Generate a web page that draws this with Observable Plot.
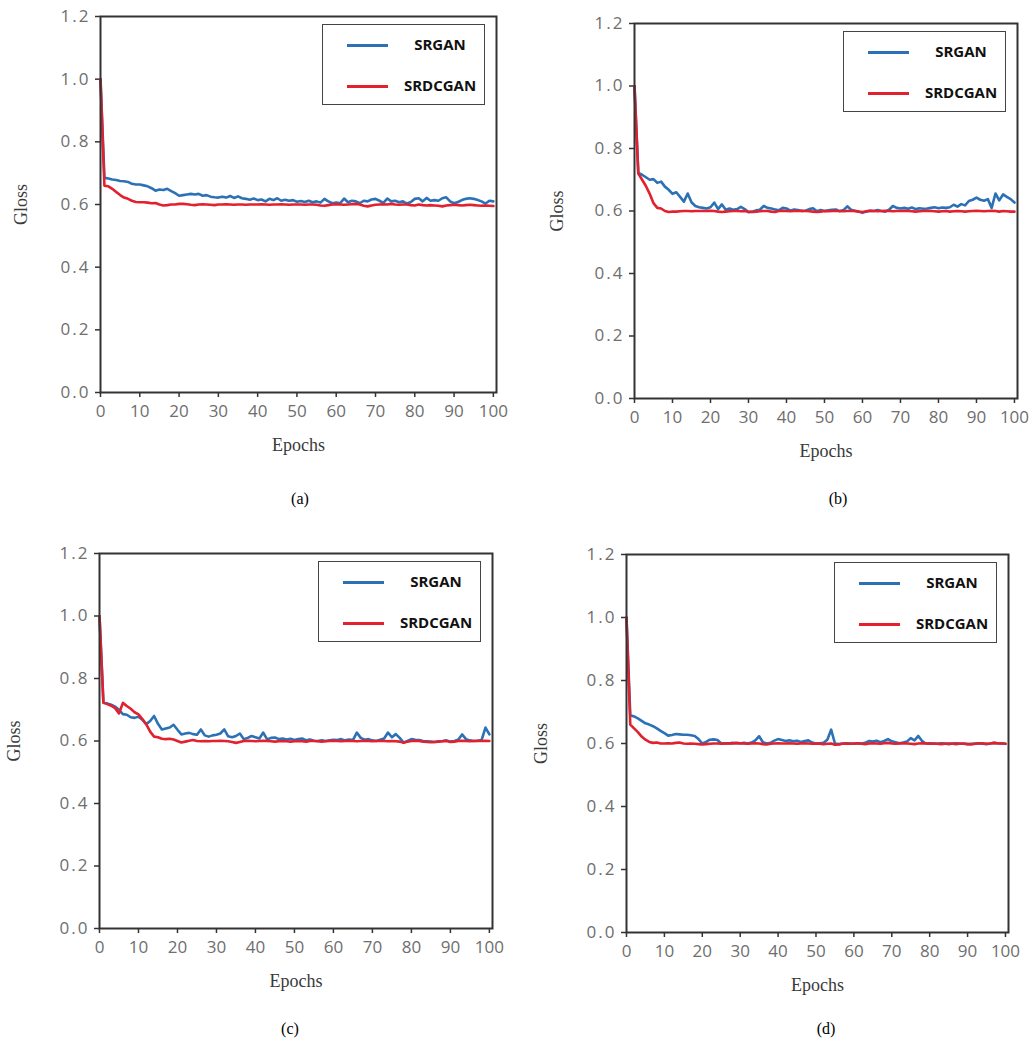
<!DOCTYPE html>
<html><head><meta charset="utf-8">
<script src="https://cdn.jsdelivr.net/npm/d3@7"></script>
<script src="https://cdn.jsdelivr.net/npm/@observablehq/plot@0.6"></script>
<style>
body{margin:0;background:#fff;}
#root{position:relative;width:1035px;height:1059px;overflow:hidden;background:#fff;}
.panel{position:absolute;}
.panel svg{overflow:visible;}
.panel g[aria-label="x-axis label"] text,.panel g[aria-label="y-axis label"] text{font-family:"Liberation Serif",serif;font-size:18px;fill:#3a3a3a;}
.panel g[aria-label="y-axis tick label"] text{letter-spacing:2px;}
.panel g[aria-label="x-axis tick"],.panel g[aria-label="y-axis tick"]{stroke:#333;stroke-width:1.5px;}
.legend{position:absolute;border:1.5px solid #444;background:#fff;box-sizing:border-box;}
.legend .sw{position:absolute;left:24px;width:41px;height:3px;}
.legend .lb{position:absolute;left:72px;width:90px;text-align:center;font:bold 15px "Open Sans",sans-serif;color:#111;line-height:18px;}
.cap{position:absolute;width:40px;text-align:center;font:16px "Liberation Serif",serif;color:#000;}
</style></head><body><div id="root"></div>
<script>
const epochs = d3.range(0, 101);
const seriesNames = ["SRGAN", "SRDCGAN"];
const xTicks = [0,10,20,30,40,50,60,70,80,90,100];
const yTicks = [0,0.2,0.4,0.6,0.8,1.0,1.2];
const captions = ["(a)", "(b)", "(c)", "(d)"];

const srganA = [1.000,0.685,0.683,0.680,0.678,0.675,0.674,0.672,0.666,0.664,
 0.664,0.661,0.658,0.652,0.644,0.648,0.646,0.650,0.643,0.636,
 0.628,0.630,0.632,0.634,0.632,0.634,0.628,0.630,0.625,0.623,
 0.622,0.625,0.622,0.627,0.621,0.626,0.620,0.618,0.615,0.619,
 0.614,0.616,0.610,0.618,0.614,0.620,0.612,0.615,0.612,0.614,
 0.609,0.611,0.608,0.612,0.607,0.610,0.606,0.618,0.610,0.604,
 0.606,0.604,0.619,0.607,0.612,0.610,0.604,0.612,0.610,0.616,
 0.618,0.612,0.605,0.619,0.610,0.612,0.607,0.610,0.603,0.608,
 0.618,0.620,0.610,0.621,0.612,0.614,0.612,0.620,0.623,0.610,
 0.604,0.608,0.614,0.618,0.620,0.618,0.614,0.610,0.603,0.612,
 0.610];
const srdcganA = [1.000,0.660,0.658,0.650,0.640,0.630,0.622,0.618,0.612,0.608,
 0.607,0.607,0.606,0.604,0.605,0.600,0.597,0.598,0.600,0.600,
 0.602,0.602,0.601,0.599,0.598,0.600,0.601,0.600,0.599,0.598,
 0.600,0.600,0.601,0.600,0.599,0.600,0.600,0.599,0.600,0.600,
 0.600,0.601,0.600,0.599,0.600,0.600,0.601,0.600,0.599,0.600,
 0.600,0.600,0.599,0.600,0.600,0.599,0.597,0.596,0.598,0.600,
 0.601,0.600,0.599,0.600,0.601,0.602,0.600,0.596,0.594,0.597,
 0.599,0.600,0.601,0.600,0.602,0.600,0.599,0.600,0.600,0.598,
 0.597,0.600,0.598,0.597,0.598,0.597,0.596,0.594,0.597,0.598,
 0.599,0.598,0.597,0.598,0.599,0.598,0.597,0.596,0.597,0.596,
 0.595];
const srganB = [1.000,0.722,0.716,0.708,0.700,0.702,0.690,0.694,0.678,0.668,
 0.655,0.660,0.645,0.630,0.656,0.628,0.616,0.612,0.610,0.608,
 0.612,0.627,0.606,0.621,0.604,0.608,0.604,0.606,0.613,0.606,
 0.596,0.598,0.602,0.604,0.616,0.610,0.608,0.605,0.602,0.610,
 0.608,0.601,0.605,0.603,0.600,0.601,0.606,0.609,0.599,0.603,
 0.600,0.602,0.604,0.605,0.599,0.603,0.615,0.604,0.600,0.598,
 0.594,0.598,0.601,0.600,0.603,0.600,0.598,0.604,0.616,0.610,
 0.608,0.610,0.607,0.611,0.606,0.609,0.607,0.608,0.610,0.612,
 0.609,0.611,0.610,0.612,0.620,0.614,0.622,0.618,0.632,0.636,
 0.643,0.636,0.633,0.638,0.610,0.656,0.634,0.653,0.645,0.638,
 0.627];
const srdcganB = [1.000,0.720,0.700,0.680,0.655,0.625,0.610,0.608,0.600,0.597,
 0.598,0.598,0.599,0.600,0.600,0.599,0.600,0.600,0.600,0.600,
 0.601,0.600,0.598,0.597,0.598,0.599,0.600,0.600,0.599,0.600,
 0.598,0.597,0.598,0.599,0.600,0.600,0.598,0.597,0.600,0.601,
 0.600,0.599,0.600,0.600,0.601,0.600,0.599,0.598,0.597,0.598,
 0.600,0.599,0.600,0.601,0.600,0.599,0.600,0.600,0.601,0.598,
 0.597,0.599,0.601,0.600,0.599,0.600,0.601,0.600,0.599,0.600,
 0.600,0.601,0.600,0.599,0.598,0.599,0.600,0.601,0.600,0.599,
 0.598,0.599,0.600,0.598,0.599,0.600,0.599,0.598,0.599,0.600,
 0.601,0.600,0.599,0.600,0.601,0.600,0.598,0.600,0.599,0.598,
 0.598];
const srganC = [1.000,0.725,0.720,0.716,0.710,0.700,0.686,0.684,0.676,0.674,
 0.678,0.668,0.654,0.664,0.680,0.655,0.637,0.640,0.643,0.652,
 0.636,0.621,0.624,0.626,0.622,0.620,0.637,0.618,0.614,0.618,
 0.620,0.624,0.637,0.615,0.612,0.616,0.624,0.606,0.610,0.616,
 0.612,0.608,0.627,0.605,0.610,0.611,0.606,0.608,0.605,0.607,
 0.603,0.606,0.608,0.602,0.605,0.601,0.600,0.602,0.600,0.602,
 0.604,0.603,0.606,0.602,0.605,0.603,0.627,0.610,0.604,0.606,
 0.602,0.600,0.604,0.608,0.627,0.612,0.622,0.610,0.595,0.600,
 0.606,0.604,0.603,0.600,0.599,0.598,0.597,0.599,0.600,0.602,
 0.598,0.600,0.604,0.621,0.606,0.602,0.600,0.601,0.603,0.643,
 0.621];
const srdcganC = [1.000,0.722,0.718,0.713,0.705,0.688,0.722,0.712,0.703,0.692,
 0.685,0.670,0.653,0.630,0.614,0.612,0.607,0.606,0.607,0.605,
 0.600,0.595,0.598,0.601,0.603,0.600,0.599,0.600,0.599,0.600,
 0.600,0.601,0.600,0.599,0.597,0.594,0.597,0.600,0.601,0.600,
 0.599,0.600,0.601,0.600,0.599,0.598,0.599,0.600,0.599,0.598,
 0.599,0.600,0.599,0.598,0.600,0.600,0.599,0.598,0.599,0.600,
 0.601,0.600,0.599,0.600,0.601,0.600,0.599,0.600,0.601,0.600,
 0.599,0.600,0.601,0.600,0.599,0.600,0.599,0.598,0.594,0.598,
 0.600,0.601,0.600,0.598,0.597,0.596,0.597,0.598,0.599,0.600,
 0.597,0.598,0.600,0.601,0.600,0.599,0.600,0.601,0.600,0.601,
 0.600];
const srganD = [1.000,0.690,0.686,0.680,0.672,0.664,0.660,0.655,0.648,0.640,
 0.633,0.625,0.627,0.630,0.629,0.628,0.628,0.626,0.624,0.614,
 0.600,0.605,0.612,0.613,0.611,0.600,0.601,0.600,0.602,0.601,
 0.600,0.602,0.600,0.603,0.610,0.623,0.604,0.600,0.602,0.609,
 0.614,0.611,0.608,0.610,0.607,0.609,0.605,0.608,0.610,0.603,
 0.600,0.601,0.602,0.612,0.644,0.600,0.598,0.600,0.601,0.600,
 0.599,0.601,0.600,0.602,0.608,0.606,0.609,0.604,0.608,0.614,
 0.607,0.604,0.601,0.603,0.606,0.617,0.610,0.624,0.608,0.600,
 0.601,0.600,0.599,0.601,0.600,0.598,0.600,0.601,0.599,0.600,
 0.598,0.599,0.600,0.601,0.599,0.598,0.600,0.602,0.600,0.601,
 0.599];
const srdcganD = [1.000,0.660,0.648,0.636,0.622,0.612,0.605,0.602,0.603,0.600,
 0.600,0.601,0.600,0.602,0.603,0.600,0.599,0.600,0.599,0.598,
 0.597,0.598,0.599,0.600,0.600,0.599,0.600,0.601,0.600,0.602,
 0.601,0.600,0.599,0.600,0.601,0.600,0.598,0.597,0.599,0.600,
 0.601,0.600,0.600,0.601,0.600,0.599,0.600,0.601,0.600,0.599,
 0.600,0.599,0.598,0.599,0.600,0.596,0.597,0.599,0.600,0.599,
 0.600,0.601,0.599,0.598,0.600,0.601,0.600,0.599,0.601,0.602,
 0.600,0.599,0.600,0.601,0.600,0.599,0.598,0.600,0.601,0.600,
 0.599,0.600,0.599,0.598,0.599,0.600,0.599,0.598,0.600,0.599,
 0.598,0.597,0.599,0.600,0.601,0.599,0.600,0.602,0.601,0.600,
 0.599];

const seriesData = [[srganA, srdcganA],[srganB, srdcganB],[srganC, srdcganC],[srganD, srdcganD]];

// layout (positions in page pixels)
const layout = [
  {left:0,   top:0,   w:520, h:480, ml:100, mt:16, mr:24, mb:88, capX:300, capY:500, yOff:86},
  {left:515, top:0,   w:520, h:480, ml:119, mt:23, mr:18, mb:82, capX:838, capY:500, yOff:84},
  {left:0,   top:520, w:520, h:480, ml:99,  mt:33, mr:28, mb:72, capX:290, capY:1030, yOff:92},
  {left:515, top:520, w:520, h:480, ml:111, mt:34, mr:27, mb:68, capX:826, capY:1030, yOff:92}
];
const colors = {SRGAN:"#2c71b6", SRDCGAN:"#e2202e"};

const root = document.getElementById("root");
layout.forEach((L, i) => {
  const [s, r] = seriesData[i];
  const rows = epochs.map((e, k) => ({epoch: e, SRGAN: s[k], SRDCGAN: r[k]}));
  const chart = Plot.plot({
    width: L.w, height: L.h,
    marginLeft: L.ml, marginTop: L.mt, marginRight: L.mr, marginBottom: L.mb,
    style: {fontFamily: "'Open Sans', sans-serif", fontSize: "17px", color: "#6e6e6e", background: "transparent"},
    x: {domain: [0, 100.8], ticks: xTicks, tickSize: 5, tickPadding: 7, label: "Epochs", labelAnchor: "center", labelOffset: 58, labelArrow: "none"},
    y: {domain: [0, 1.2], ticks: yTicks, tickFormat: d3.format(".1f"), tickSize: 5, tickPadding: 5, label: "Gloss", labelAnchor: "center", labelOffset: L.yOff, labelArrow: "none"},
    marks: [
      Plot.line(rows, {x: "epoch", y: "SRGAN", stroke: colors.SRGAN, strokeWidth: 2.6}),
      Plot.line(rows, {x: "epoch", y: "SRDCGAN", stroke: colors.SRDCGAN, strokeWidth: 2.6}),
      Plot.frame({stroke: "#333", strokeWidth: 2})
    ]
  });
  const div = document.createElement("div");
  div.className = "panel";
  div.style.left = L.left + "px";
  div.style.top = L.top + "px";
  div.appendChild(chart);
  root.appendChild(div);

  // legend box inside the plot frame (top-right)
  const frameRight = L.left + L.w - L.mr;
  const frameTop = L.top + L.mt;
  const lg = document.createElement("div");
  lg.className = "legend";
  const bw = 163, bh = 81;
  lg.style.left = (frameRight - 11 - bw) + "px";
  lg.style.top = (frameTop + 8) + "px";
  lg.style.width = bw + "px";
  lg.style.height = bh + "px";
  seriesNames.forEach((name, j) => {
    const cy = j === 0 ? 20 : 61;
    const sw = document.createElement("div");
    sw.className = "sw";
    sw.style.top = (cy - 1.5) + "px";
    sw.style.background = colors[name];
    const lb = document.createElement("div");
    lb.className = "lb";
    lb.style.top = (cy - 10) + "px";
    lb.textContent = name;
    lg.appendChild(sw); lg.appendChild(lb);
  });
  root.appendChild(lg);

  const cap = document.createElement("div");
  cap.className = "cap";
  cap.style.left = (L.capX - 20) + "px";
  cap.style.top = (L.capY - 10) + "px";
  cap.textContent = captions[i];
  root.appendChild(cap);
});
</script></body></html>
